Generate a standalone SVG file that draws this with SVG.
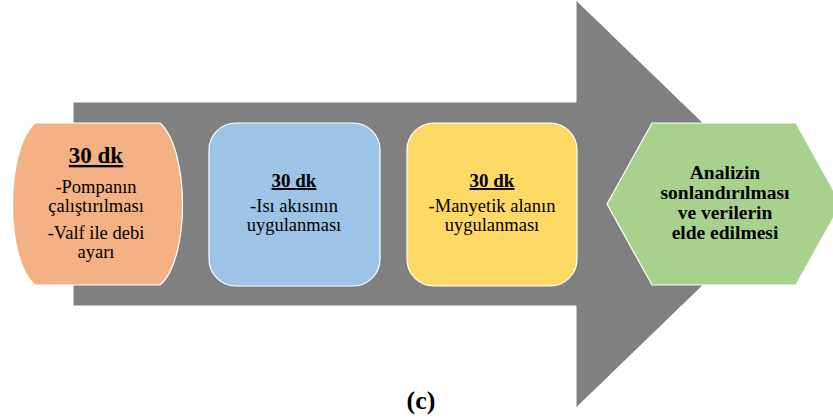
<svg xmlns="http://www.w3.org/2000/svg" width="833" height="418" viewBox="0 0 833 418">
<style>
text{font-family:'Liberation Serif','Times New Roman','DejaVu Serif',serif;fill:#000;text-anchor:middle}
.h{font-weight:bold;text-decoration:underline}
.b{font-weight:bold}
.box{stroke:#fff;stroke-width:1.2}
</style>
<rect width="833" height="418" fill="#fff"/>
<g id="arrow">
<path d="M73,102 H576 V0 L787,204 L576,408 V306 H73 Z" fill="#808080" stroke="#fff" stroke-width="1"/>
</g>
<g id="step1">
<path class="box" d="M35,123 H160 C190,150 190,260 160,285 H35 C5,260 5,150 35,123 Z" fill="#F4B183"/>
<text class="h" x="96" y="163" font-size="23">30 dk</text>
<text x="96" y="193" font-size="18.5">-Pompanın</text>
<text x="96" y="212" font-size="18.5">çalıştırılması</text>
<text x="96" y="239" font-size="18.5">-Valf ile debi</text>
<text x="96" y="258" font-size="18.5">ayarı</text>
</g>
<g id="step2">
<rect class="box" x="209" y="123" width="171" height="163" rx="27" fill="#9DC3E6"/>
<text class="h" x="294" y="187" font-size="19">30 dk</text>
<text x="294" y="212" font-size="18.5">-Isı akısının</text>
<text x="294" y="231" font-size="18.5">uygulanması</text>
</g>
<g id="step3">
<rect class="box" x="407" y="123" width="170" height="163" rx="27" fill="#FFD966"/>
<text class="h" x="492" y="187" font-size="19">30 dk</text>
<text x="492" y="212" font-size="18.5">-Manyetik alanın</text>
<text x="492" y="231" font-size="18.5">uygulanması</text>
</g>
<g id="step4">
<path class="box" d="M607,204 L652,123 H796 L841,204 L796,285 H652 Z" fill="#A9D18E"/>
<text class="b" x="725" y="179" font-size="19.5">Analizin</text>
<text class="b" x="725" y="199" font-size="19.5">sonlandırılması</text>
<text class="b" x="725" y="219" font-size="19.5">ve verilerin</text>
<text class="b" x="725" y="239" font-size="19.5">elde edilmesi</text>
</g>
<g id="connectors"></g>
<text class="b" x="421" y="409" font-size="26">(c)</text>
</svg>
